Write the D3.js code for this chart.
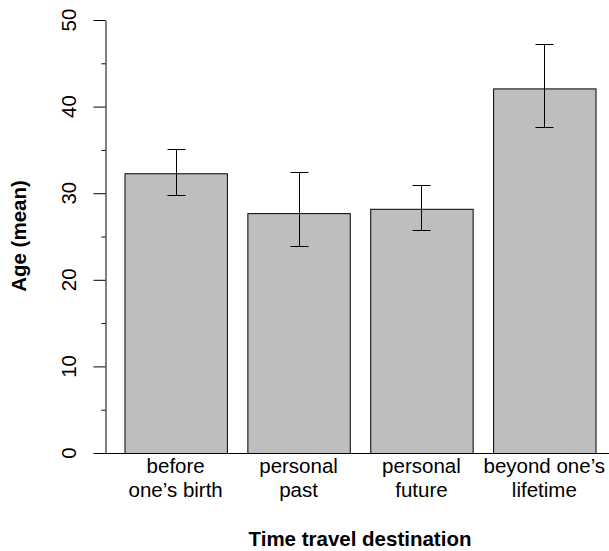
<!DOCTYPE html>
<meta charset="utf-8">
<script src="https://d3js.org/d3.v7.min.js"></script>
<style>
  body { margin: 0; background: #fff; }
  text { font-family: "Liberation Sans", Arial, sans-serif; }
</style>
<div id="my_dataviz"></div>
<script>

// data
var categories = ["before|one\u2019s birth", "personal|past", "personal|future", "beyond one\u2019s|lifetime"]
var means = [32.3, 27.7, 28.2, 42.1]
var errLow = [29.8, 23.9, 25.7, 37.6]
var errHigh = [35.1, 32.4, 30.9, 47.2]
var majorTicks = [0, 10, 20, 30, 40, 50]
var minorTicks = [5, 15, 25, 35, 45]

var width = 609, height = 551

var svg = d3.select("#my_dataviz")
  .append("svg")
    .attr("width", width)
    .attr("height", height)

// scales
var x = d3.scaleBand()
  .domain(categories)
  .range([104, 616])
  .paddingInner(1/6)
  .paddingOuter(1/6)

var y = d3.scaleLinear()
  .domain([0, 50])
  .range([453, 20])

var data = categories.map(function(c, i) {
  return {cat: c, mean: means[i], lo: errLow[i], hi: errHigh[i]}
})

// baseline
svg.append("line")
  .attr("x1", 105).attr("x2", width)
  .attr("y1", y(0) + 0.5).attr("y2", y(0) + 0.5)
  .attr("stroke", "#000")

// bars
svg.selectAll(".bar")
  .data(data)
  .enter()
  .append("rect")
    .attr("x", function(d) { return x(d.cat) + 0.5 })
    .attr("y", function(d) { return y(d.mean) + 0.5 })
    .attr("width", x.bandwidth())
    .attr("height", function(d) { return y(0) - y(d.mean) })
    .attr("fill", "#bebebe")
    .attr("stroke", "#000")
    .attr("stroke-width", 1)

// error bars
var eb = svg.selectAll(".err")
  .data(data)
  .enter()
  .append("g")
    .attr("transform", function(d) { return "translate(" + (Math.round(x(d.cat) + x.bandwidth() / 2) + 0.5) + ",0)" })
eb.append("line")
  .attr("y1", function(d) { return y(d.lo) })
  .attr("y2", function(d) { return y(d.hi) })
  .attr("stroke", "#000")
eb.append("line")
  .attr("x1", -9).attr("x2", 9)
  .attr("y1", function(d) { return Math.round(y(d.hi)) + 0.5 })
  .attr("y2", function(d) { return Math.round(y(d.hi)) + 0.5 })
  .attr("stroke", "#000")
eb.append("line")
  .attr("x1", -9).attr("x2", 9)
  .attr("y1", function(d) { return Math.round(y(d.lo)) + 0.5 })
  .attr("y2", function(d) { return Math.round(y(d.lo)) + 0.5 })
  .attr("stroke", "#000")

// y axis: long ticks at the labelled values, short ones between
var yAxis = svg.append("g")
  .attr("transform", "translate(105.5,0)")
  .call(d3.axisLeft(y).tickValues(majorTicks).tickSize(12).tickSizeOuter(0).tickFormat(""))
yAxis.selectAll("path, line").attr("stroke", "#000")

var yMinor = svg.append("g")
  .attr("transform", "translate(105.5,0)")
  .call(d3.axisLeft(y).tickValues(minorTicks).tickSize(4).tickSizeOuter(0).tickFormat(""))
yMinor.select(".domain").remove()
yMinor.selectAll("line").attr("stroke", "#000")

svg.selectAll(".ylab")
  .data(majorTicks)
  .enter()
  .append("text")
    .attr("transform", function(d) { return "translate(76," + y(d) + ") rotate(-90)" })
    .attr("text-anchor", "middle")
    .style("font-size", "20.5px")
    .text(function(d) { return d })

// category labels (two lines each)
var cl = svg.selectAll(".xlab")
  .data(categories)
  .enter()
  .append("text")
    .attr("text-anchor", "middle")
    .style("font-size", "20.5px")
cl.append("tspan")
  .attr("x", function(d) { return x(d) + x.bandwidth() / 2 })
  .attr("y", 473)
  .text(function(d) { return d.split("|")[0] })
cl.append("tspan")
  .attr("x", function(d) { return x(d) + x.bandwidth() / 2 })
  .attr("y", 497)
  .text(function(d) { return d.split("|")[1] })

// axis titles
svg.append("text")
  .attr("x", 360)
  .attr("y", 546)
  .attr("text-anchor", "middle")
  .style("font-size", "20.5px")
  .style("font-weight", "bold")
  .text("Time travel destination")

svg.append("text")
  .attr("transform", "translate(26,236) rotate(-90)")
  .attr("text-anchor", "middle")
  .style("font-size", "20.5px")
  .style("font-weight", "bold")
  .text("Age (mean)")

</script>
